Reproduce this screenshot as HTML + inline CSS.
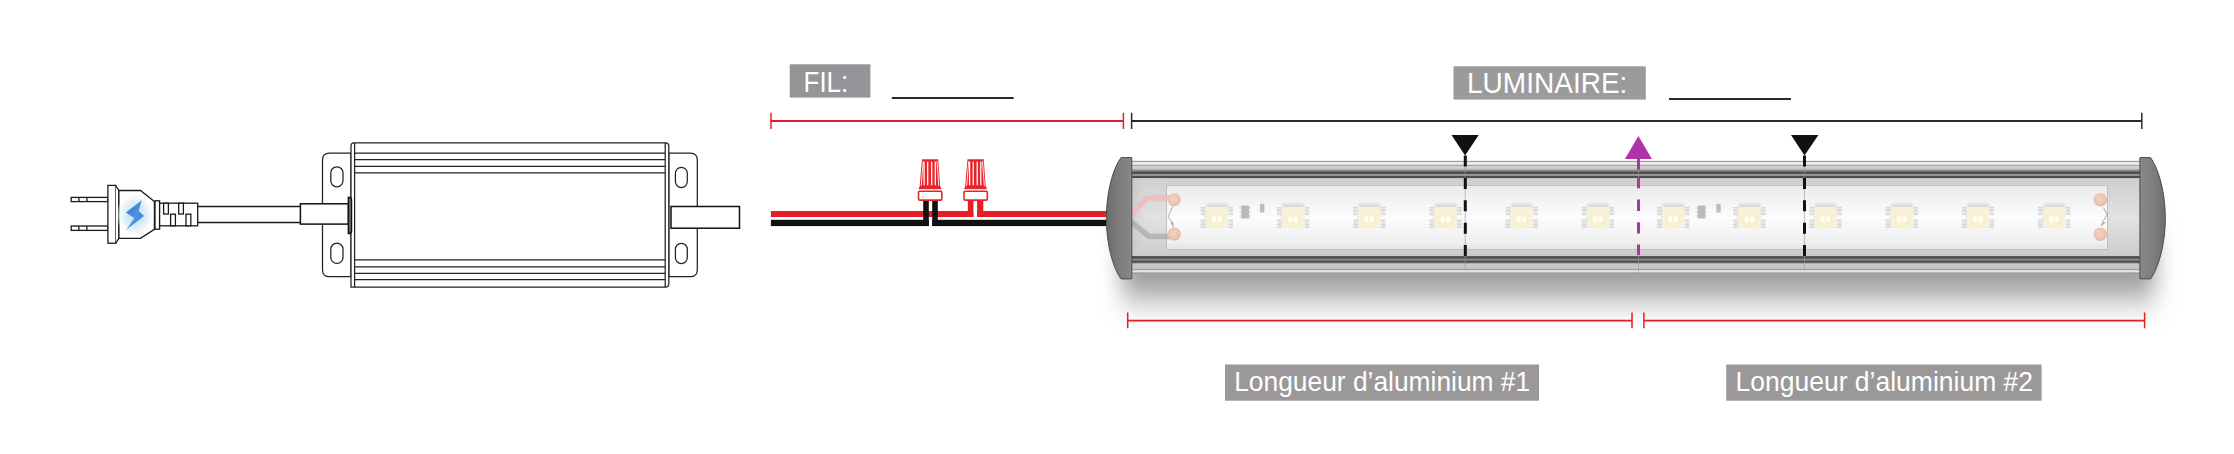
<!DOCTYPE html>
<html><head><meta charset="utf-8">
<style>
html,body{margin:0;padding:0;background:#fff;width:2234px;height:454px;overflow:hidden}
svg{display:block}
text{font-family:"Liberation Sans",sans-serif;fill:#fff}
</style></head><body>
<svg width="2234" height="454" viewBox="0 0 2234 454">
<defs>
  <radialGradient id="glow" cx="0.5" cy="0.5" r="0.5">
    <stop offset="0" stop-color="#acd8f5"/>
    <stop offset="0.4" stop-color="#d0e9f9"/>
    <stop offset="0.75" stop-color="#eef7fd"/>
    <stop offset="1" stop-color="#ffffff" stop-opacity="0"/>
  </radialGradient>
  <linearGradient id="bolt" x1="0" y1="0" x2="1" y2="1">
    <stop offset="0" stop-color="#3576d0"/>
    <stop offset="0.55" stop-color="#4d95dc"/>
    <stop offset="1" stop-color="#3271cc"/>
  </linearGradient>
  <linearGradient id="chan2" x1="0" x2="0" gradientUnits="userSpaceOnUse" y1="179" y2="256">
    <stop offset="0" stop-color="#cfcfcf"/>
    <stop offset="0.5" stop-color="#e2e2e2"/>
    <stop offset="1" stop-color="#cbcbcb"/>
  </linearGradient>
  <linearGradient id="cap" x1="0" y1="0" x2="1" y2="0">
    <stop offset="0" stop-color="#6a6a6a"/>
    <stop offset="0.4" stop-color="#7a7a7a"/>
    <stop offset="1" stop-color="#888888"/>
  </linearGradient>
  <linearGradient id="capR" x1="1" y1="0" x2="0" y2="0">
    <stop offset="0" stop-color="#6c6c6c"/>
    <stop offset="0.4" stop-color="#7c7c7c"/>
    <stop offset="1" stop-color="#888888"/>
  </linearGradient>
  <linearGradient id="toprail" x1="0" x2="0" gradientUnits="userSpaceOnUse" y1="160.4" y2="179">
    <stop offset="0" stop-color="#a8a8a8"/>
    <stop offset="0.045" stop-color="#a8a8a8"/>
    <stop offset="0.07" stop-color="#ededed"/>
    <stop offset="0.235" stop-color="#e8e8e8"/>
    <stop offset="0.255" stop-color="#a0a0a0"/>
    <stop offset="0.29" stop-color="#a0a0a0"/>
    <stop offset="0.31" stop-color="#dadada"/>
    <stop offset="0.57" stop-color="#acacac"/>
    <stop offset="0.60" stop-color="#525252"/>
    <stop offset="0.685" stop-color="#525252"/>
    <stop offset="0.715" stop-color="#9a9a9a"/>
    <stop offset="0.79" stop-color="#9a9a9a"/>
    <stop offset="0.82" stop-color="#565656"/>
    <stop offset="0.90" stop-color="#585858"/>
    <stop offset="0.93" stop-color="#cccccc"/>
    <stop offset="1" stop-color="#cfcfcf"/>
  </linearGradient>
  <linearGradient id="botrail" x1="0" x2="0" gradientUnits="userSpaceOnUse" y1="249.5" y2="274">
    <stop offset="0" stop-color="#cdcdcd"/>
    <stop offset="0.29" stop-color="#c6c6c6"/>
    <stop offset="0.31" stop-color="#575757"/>
    <stop offset="0.36" stop-color="#5a5a5a"/>
    <stop offset="0.43" stop-color="#8c8c8c"/>
    <stop offset="0.50" stop-color="#525252"/>
    <stop offset="0.57" stop-color="#585858"/>
    <stop offset="0.60" stop-color="#b4b4b4"/>
    <stop offset="0.78" stop-color="#c2c2c2"/>
    <stop offset="0.80" stop-color="#e0e0e0"/>
    <stop offset="0.87" stop-color="#ececec"/>
    <stop offset="0.95" stop-color="#eeeeee"/>
    <stop offset="1" stop-color="#a0a0a0"/>
  </linearGradient>
  <linearGradient id="channel" x1="0" x2="0" gradientUnits="userSpaceOnUse" y1="178" y2="250">
    <stop offset="0" stop-color="#d0d0d0"/>
    <stop offset="0.5" stop-color="#e8e8e8"/>
    <stop offset="1" stop-color="#d0d0d0"/>
  </linearGradient>
  <linearGradient id="pcb" x1="0" x2="0" gradientUnits="userSpaceOnUse" y1="186" y2="249">
    <stop offset="0" stop-color="#ebebeb"/>
    <stop offset="0.5" stop-color="#fcfcfc"/>
    <stop offset="0.88" stop-color="#f0f0f0"/>
    <stop offset="1" stop-color="#e4e4e4"/>
  </linearGradient>
  <linearGradient id="shadow" x1="0" x2="0" gradientUnits="userSpaceOnUse" y1="273" y2="322">
    <stop offset="0" stop-color="#959595"/>
    <stop offset="0.3" stop-color="#bdbdbd"/>
    <stop offset="0.65" stop-color="#e6e6e6"/>
    <stop offset="1" stop-color="#ffffff"/>
  </linearGradient>
  <radialGradient id="pad" cx="0.45" cy="0.42" r="0.58">
    <stop offset="0" stop-color="#f1d2c2"/>
    <stop offset="0.6" stop-color="#edc7b5"/>
    <stop offset="1" stop-color="#e4b9a6"/>
  </radialGradient>
  <linearGradient id="chanL" x1="0" x2="1" y1="0" y2="0">
    <stop offset="0" stop-color="#bdbdbd" stop-opacity="0.6"/>
    <stop offset="0.4" stop-color="#d8d8d8" stop-opacity="0.2"/>
    <stop offset="1" stop-color="#eeeeee" stop-opacity="0"/>
  </linearGradient>
  <filter id="blur" x="-10%" y="-100%" width="120%" height="300%">
    <feGaussianBlur stdDeviation="11 16"/>
  </filter>
  <filter id="sblur" x="-20%" y="-50%" width="140%" height="200%">
    <feGaussianBlur stdDeviation="0.9"/>
  </filter>
  <linearGradient id="ledtop" x1="0" x2="0" y1="0" y2="1">
    <stop offset="0" stop-color="#e0e0e0" stop-opacity="0"/>
    <stop offset="1" stop-color="#c2c2c2"/>
  </linearGradient>
  <radialGradient id="ledglow" cx="0.5" cy="0.6" r="0.65">
    <stop offset="0" stop-color="#fcf6d8"/>
    <stop offset="0.45" stop-color="#f9f0cc"/>
    <stop offset="0.8" stop-color="#f6f2de"/>
    <stop offset="1" stop-color="#f1efe6"/>
  </radialGradient>
  <clipPath id="pcbclip"><rect x="1167" y="186" width="940" height="63"/></clipPath>
  <g id="led">
    <rect x="-10.5" y="201.5" width="21.5" height="6" fill="url(#ledtop)" filter="url(#sblur)"/>
    <rect x="-16" y="207" width="4.6" height="7.9" fill="#e6e6e6"/>
    <path d="M-16,207.6 H-11.4 M-16,210.2 H-11.4 M-16,214.4 H-11.4" stroke="#d0d0d0" stroke-width="0.9"/>
    <rect x="-16" y="219.7" width="4.6" height="8.3" fill="#e6e6e6"/>
    <path d="M-16,220.3 H-11.4 M-16,224.4 H-11.4 M-16,227.4 H-11.4" stroke="#d0d0d0" stroke-width="0.9"/>
    <rect x="11.6" y="207" width="4.6" height="7.9" fill="#e6e6e6"/>
    <path d="M11.6,207.6 H16.2 M11.6,210.2 H16.2 M11.6,214.4 H16.2" stroke="#d0d0d0" stroke-width="0.9"/>
    <rect x="11.6" y="219.7" width="4.6" height="8.3" fill="#e6e6e6"/>
    <path d="M11.6,220.3 H16.2 M11.6,224.4 H16.2 M11.6,227.4 H16.2" stroke="#d0d0d0" stroke-width="0.9"/>
    <rect x="-11.6" y="207" width="23.2" height="21" fill="url(#ledglow)"/>
    <path d="M-11.6,207 V228" stroke="#dedede" stroke-width="0.8"/>
    <rect x="-4.5" y="216.4" width="3.4" height="5.6" rx="1" fill="#ffffff"/>
    <rect x="1.1" y="216.4" width="3.4" height="5.6" rx="1" fill="#ffffff"/>
  </g>
  <g id="ic">
    <rect x="24.5" y="205.4" width="7.8" height="13.2" rx="0.5" fill="#bababa"/>
    <path d="M22.7,207.8 H24.5 M22.7,211.9 H24.5 M22.7,216 H24.5 M32.3,207.8 H34.1 M32.3,211.9 H34.1 M32.3,216 H34.1" stroke="#cdcdcd" stroke-width="1"/>
    <rect x="43.2" y="203.8" width="4.4" height="8.8" rx="0.6" fill="#bcbcbc"/>
  </g>
  <g id="nut">
    <path d="M4,159.2 H20.2 L22.2,186.6 L23.8,189.3 H0.4 L1.6,186.6 Z" fill="#e8232a"/>
    <path d="M5.2,161.5 L3.2,185.5 M19,161.5 L20.8,185.5" stroke="#fff" stroke-width="0.9" stroke-linecap="round"/>
    <path d="M6.1,162 V184.8 M9.7,162 V184.8 M13.7,162 V184.8 M17.3,162 V184.8" stroke="#fff" stroke-width="1.25" stroke-linecap="round"/>
    <path d="M0.4,189.9 H23.8" stroke="#fff" stroke-width="0.8"/>
    <rect x="0.5" y="191.2" width="23.3" height="8.9" rx="1" fill="#fff" stroke="#e8232a" stroke-width="1.6"/>
  </g>
</defs>

<!-- ============ PLUG ============ -->
<g fill="#fff" stroke="#1a1a1a" stroke-width="1.3">
  <rect x="71.2" y="197.4" width="36.7" height="4.2"/>
  <rect x="71.2" y="226" width="36.7" height="4.4"/>
  <path d="M78.9,197.4 V201.6 M86.9,197.4 V201.6 M78.9,226 V230.4 M86.9,226 V230.4" fill="none"/>
  <rect x="107.9" y="185.4" width="8" height="57.8"/>
  <path d="M115.9,186 L118.9,190.5 V238.3 L115.9,242.8"/>
  <path d="M118.9,190.5 H140.5 L154.4,201.6 V229.4 L140.5,238.3 H118.9 Z"/>
  <rect x="155" y="200.8" width="4.6" height="28.4"/>
  <rect x="159.6" y="203.2" width="38.1" height="22.6"/>
  <rect x="163.6" y="203.2" width="4.8" height="10.8"/>
  <rect x="178.7" y="203.2" width="4.7" height="10.8"/>
  <rect x="170.6" y="214.2" width="4.8" height="11.6"/>
  <rect x="186" y="214.2" width="4.8" height="11.6"/>
</g>
<ellipse cx="135.5" cy="215" rx="19" ry="23" fill="url(#glow)"/>
<path d="M141.8,200.3 L138.7,210.9 L144,216.1 L126.4,229.8 L134.3,217.9 L125.9,212.6 Z" fill="url(#bolt)"/>

<!-- cord -->
<path d="M197.7,206.5 H300.4 M197.7,222.5 H300.4" fill="none" stroke="#1a1a1a" stroke-width="1.3"/>

<!-- ============ POWER SUPPLY ============ -->
<g fill="#fff" stroke="#222" stroke-width="1.25">
  <path d="M351,153 H329.5 Q322.5,153 322.5,160 V269.7 Q322.5,276.7 329.5,276.7 H351 Z"/>
  <path d="M668.8,153 H690.3 Q697.3,153 697.3,160 V269.7 Q697.3,276.7 690.3,276.7 H668.8 Z"/>
  <rect x="330.8" y="166.8" width="12.2" height="20" rx="6"/>
  <rect x="330.8" y="243.2" width="12.2" height="20.2" rx="6"/>
  <rect x="675.4" y="167.4" width="11.9" height="20.1" rx="5.9"/>
  <rect x="675.4" y="243.3" width="11.9" height="20.2" rx="5.9"/>
  <path d="M351,287 V146 Q351,142.8 354,142.8 H665.5 Q668.8,142.8 668.8,146 V284 Q668.8,287 665.5,287 Z"/>
  <path d="M354.6,142.8 V287 M665.2,142.8 V287" fill="none"/>
  <path d="M354.6,153.1 H665.2 M354.6,159.7 H665.2 M354.6,166.3 H665.2 M354.6,172.9 H665.2" fill="none"/>
  <path d="M354.6,259.8 H665.2 M354.6,266.8 H665.2 M354.6,273.4 H665.2 M354.6,279.6 H665.2" fill="none"/>
</g>
<g fill="#fff" stroke="#111" stroke-width="1.5">
  <rect x="300.4" y="203.8" width="48" height="20.3"/>
  <path d="M348.4,197.2 Q351.5,197.2 351.5,200 V231 Q351.5,233.6 348.4,233.6 Z" fill="#777"/>
  <rect x="671" y="206.5" width="68.5" height="21.7"/>
</g>

<!-- ============ WIRES ============ -->
<rect x="770.9" y="211" width="340" height="6" fill="#e41f26"/>
<rect x="770.9" y="219.8" width="340" height="6.3" fill="#111"/>
<!-- connector 2: red verticals with gap -->
<rect x="973.4" y="200" width="3.7" height="18.5" fill="#fff"/>
<rect x="967.8" y="200" width="5.6" height="17" fill="#e41f26"/>
<rect x="977.1" y="200" width="6.2" height="17" fill="#e41f26"/>
<!-- connector 1: black verticals -->
<rect x="928.8" y="217" width="3.4" height="10" fill="#fff"/>
<rect x="923.2" y="200" width="5.6" height="26" fill="#111"/>
<rect x="932.2" y="200" width="5.6" height="26" fill="#111"/>
<use href="#nut" x="918" y="0"/>
<use href="#nut" x="963.5" y="0"/>

<!-- ============ LED BAR ============ -->
<rect x="1122" y="232" width="1033" height="66" fill="#9b9b9b" filter="url(#blur)"/>
<rect x="1131" y="179" width="1010" height="77" fill="url(#chan2)"/>
<rect x="1131" y="160" width="1010" height="1" fill="#f0f0f0"/>
<rect x="1131" y="161" width="1010" height="1" fill="#9c9c9c"/>
<rect x="1131" y="162" width="1010" height="2" fill="#ebebeb"/>
<rect x="1131" y="164" width="1010" height="1" fill="#e0e0e0"/>
<rect x="1131" y="165" width="1010" height="1" fill="#a2a2a2"/>
<rect x="1131" y="166" width="1010" height="1" fill="#d2d2d2"/>
<rect x="1131" y="167" width="1010" height="1" fill="#cfcfcf"/>
<rect x="1131" y="168" width="1010" height="1" fill="#c6c6c6"/>
<rect x="1131" y="169" width="1010" height="1" fill="#b2b2b2"/>
<rect x="1131" y="170" width="1010" height="1" fill="#8e8e8e"/>
<rect x="1131" y="171" width="1010" height="1" fill="#6a6a6a"/>
<rect x="1131" y="172" width="1010" height="2" fill="#4f4f4f"/>
<rect x="1131" y="174" width="1010" height="1" fill="#979797"/>
<rect x="1131" y="175" width="1010" height="1" fill="#929292"/>
<rect x="1131" y="176" width="1010" height="2" fill="#4d4d4d"/>
<rect x="1131" y="178" width="1010" height="1" fill="#c4c4c4"/>
<rect x="1131" y="256" width="1010" height="1" fill="#5a5a5a"/>
<rect x="1131" y="257" width="1010" height="1" fill="#4e4e4e"/>
<rect x="1131" y="258" width="1010" height="1" fill="#5e5e5e"/>
<rect x="1131" y="259" width="1010" height="1" fill="#8c8c8c"/>
<rect x="1131" y="260" width="1010" height="1" fill="#727272"/>
<rect x="1131" y="261" width="1010" height="1" fill="#4c4c4c"/>
<rect x="1131" y="262" width="1010" height="1" fill="#686868"/>
<rect x="1131" y="263" width="1010" height="1" fill="#a8a8a8"/>
<rect x="1131" y="264" width="1010" height="4" fill="#c8c8c8"/>
<rect x="1131" y="268" width="1010" height="1" fill="#c0c0c0"/>
<rect x="1131" y="269" width="1010" height="1" fill="#9e9e9e"/>
<rect x="1131" y="270" width="1010" height="1" fill="#dcdcdc"/>
<rect x="1131" y="271" width="1010" height="1" fill="#e2e2e2"/>
<rect x="1131" y="272" width="1010" height="1" fill="#b4b4b4"/>
<rect x="1131" y="273" width="1010" height="1" fill="#a0a0a0"/>

<rect x="1166" y="185" width="942" height="65" fill="#c0c0c0"/>
<rect x="1167" y="186" width="940" height="63" fill="url(#pcb)"/>
<!-- wires inside -->
<rect x="1131" y="178" width="36" height="72" fill="url(#chanL)"/>
<path d="M1130,215 L1147.5,198 H1172" fill="none" stroke="#f2b8b9" stroke-width="5.5" opacity="0.85"/>
<path d="M1130,221 L1149,236.5 H1172" fill="none" stroke="#b0b0b0" stroke-width="5.5" opacity="0.85"/>
<circle cx="1174.2" cy="199.7" r="6.6" fill="url(#pad)"/>
<circle cx="1174.2" cy="234" r="6.6" fill="url(#pad)"/>
<path d="M1172.6,206.5 L1168.3,216.5 Q1169,219 1171.5,221.5 Q1174,224 1172.5,225 Q1171,224 1172,222 L1173.5,227.5" fill="none" stroke="#7a7a7a" stroke-width="0.6"/>
<g clip-path="url(#pcbclip)">
<circle cx="2100.3" cy="199.7" r="6.8" fill="url(#pad)"/>
<circle cx="2100.3" cy="234.2" r="6.8" fill="url(#pad)"/>
</g>
<path d="M2103.4,207.5 L2107,214.5 L2102.5,222.5 Q2100.5,225 2101.5,225.5 Q2103.5,225 2104.5,222 L2103,224" fill="none" stroke="#777" stroke-width="0.6"/>
<use href="#led" x="1216.8" y="0"/>
<use href="#led" x="1293.0" y="0"/>
<use href="#led" x="1369.2" y="0"/>
<use href="#led" x="1445.4" y="0"/>
<use href="#led" x="1521.6" y="0"/>
<use href="#led" x="1597.8" y="0"/>
<use href="#led" x="1673.1" y="0"/>
<use href="#led" x="1749.3" y="0"/>
<use href="#led" x="1825.5" y="0"/>
<use href="#led" x="1901.7" y="0"/>
<use href="#led" x="1977.9" y="0"/>
<use href="#led" x="2054.1" y="0"/>

<use href="#ic" x="1216.8" y="0"/>
<use href="#ic" x="1673.1" y="0"/>

<!-- end caps -->
<path d="M1131.8,157.6 H1121 C1113,168.5 1106.4,192 1106.4,218.2 C1106.4,244 1113,268 1121,278.9 H1131.8 Z" fill="url(#cap)" stroke="#4e4e4e" stroke-width="1" stroke-linejoin="round"/>
<path d="M2139.9,157.6 H2150.5 C2158.5,168.5 2165.3,192 2165.3,218.2 C2165.3,244 2158.5,268 2150.5,278.9 H2139.9 Z" fill="url(#capR)" stroke="#4e4e4e" stroke-width="1" stroke-linejoin="round"/>

<!-- dashed markers -->
<path d="M1465.2,158 V269" stroke="#9a9a9a" stroke-width="0.6"/>
<path d="M1465.3,155.5 V256" stroke="#111" stroke-width="3" stroke-dasharray="11 11.4"/>
<path d="M1451.5,135.1 H1478.7 L1465.1,155.5 Z" fill="#111"/>
<path d="M1804.5,158 V269" stroke="#9a9a9a" stroke-width="0.6"/>
<path d="M1804.5,155.5 V256" stroke="#111" stroke-width="3" stroke-dasharray="11 11.4"/>
<path d="M1791,135 H1818.4 L1804.5,155.5 Z" fill="#111"/>
<path d="M1638.5,160 V179 M1638.5,256 V274" stroke="#9a9a9a" stroke-width="0.6"/>
<path d="M1638.5,155 V169.8 M1638.5,177 V188.3 M1638.5,199.6 V210.9 M1638.5,222.2 V233.5 M1638.5,244.6 V255.2" stroke="#ac33a8" stroke-width="3"/>
<path d="M1624.9,158.9 H1651.9 L1638.4,135.9 Z" fill="#ac33a8"/>

<!-- ============ DIMENSIONS ============ -->
<g stroke="#e41e27" fill="none">
  <path d="M771,121 H1123.4 M1131.6,121" stroke-width="1.8"/>
  <path d="M771,112.8 V128.9 M1123.4,112.8 V128.9" stroke-width="1.5"/>
  <path d="M1127.7,320.6 H1632 M1643.9,320.6 H2144.6" stroke-width="1.8"/>
  <path d="M1127.7,312.4 V328.3 M1632,312.4 V328.3 M1643.9,312.4 V328.3 M2144.6,312.4 V328.3" stroke-width="1.5"/>
</g>
<g stroke="#2a2a2a" fill="none">
  <path d="M1131.6,121 H2141.8" stroke-width="1.8"/>
  <path d="M1131.6,112.8 V128.9 M2141.8,112.8 V128.9" stroke-width="1.5"/>
</g>
<g stroke="#2a2a2a" stroke-width="2">
  <path d="M891.8,98 H1013.7"/>
  <path d="M1669,99 H1791"/>
</g>

<!-- labels -->
<rect x="789.7" y="64.3" width="80.7" height="33.3" fill="#939598"/>
<text x="803.6" y="91.9" font-size="29.5" textLength="44.6" lengthAdjust="spacingAndGlyphs">FIL:</text>
<rect x="1453.5" y="66.3" width="192.3" height="33.3" fill="#9c9b9b"/>
<text x="1467" y="92.6" font-size="29.6" textLength="160.4" lengthAdjust="spacingAndGlyphs">LUMINAIRE:</text>
<rect x="1225" y="364.5" width="314" height="36.2" fill="#9a9899"/>
<text x="1234.2" y="391.2" font-size="28" textLength="296" lengthAdjust="spacingAndGlyphs">Longueur d’aluminium #1</text>
<rect x="1726.2" y="364.5" width="315.4" height="36.2" fill="#9a9899"/>
<text x="1735.5" y="391.2" font-size="28" textLength="297.6" lengthAdjust="spacingAndGlyphs">Longueur d’aluminium #2</text>
</svg>
</body></html>
